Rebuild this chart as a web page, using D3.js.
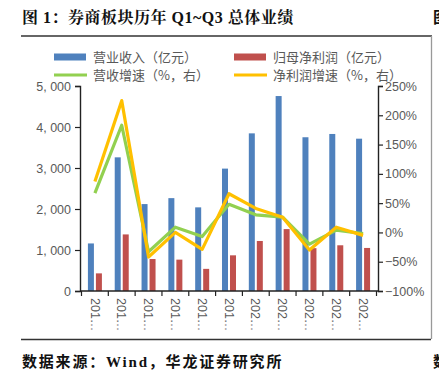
<!DOCTYPE html>
<html><head><meta charset="utf-8">
<script src="https://cdn.jsdelivr.net/npm/d3@7/dist/d3.min.js"></script>
<style>
body{margin:0;background:#fff;}
svg{display:block;}
</style></head>
<body>
<svg id="c" width="439" height="380"></svg>
<script>
const categories = ["2014Q1-Q3","2015Q1-Q3","2016Q1-Q3","2017Q1-Q3","2018Q1-Q3","2019Q1-Q3","2020Q1-Q3","2021Q1-Q3","2022Q1-Q3","2023Q1-Q3","2024Q1-Q3"];
const revenue = [1160, 3260, 2120, 2265, 2040, 2985, 3845, 4755, 3750, 3830, 3715];
const netProfit = [430, 1380, 780, 765, 540, 870, 1220, 1510, 1045, 1115, 1050];
const revenueGrowth = [67, 183, -33, 9, -7, 48, 30, 26, -20, 4, -2];
const profitGrowth = [87, 225, -42, 0, -29, 66, 41, 26, -30, 9, -5];
const leftTicks = [0, 1000, 2000, 3000, 4000, 5000];
const leftTickLabels = ["0", "1, 000", "2, 000", "3, 000", "4, 000", "5, 000"];
const rightTicks = [-100, -50, 0, 50, 100, 150, 200, 250];
const rightTickLabels = ["\u2212100%", "\u221250%", "0%", "50%", "100%", "150%", "200%", "250%"];
const seriesNames = ["营业收入（亿元）", "归母净利润（亿元）", "营收增速（%，右）", "净利润增速（%，右）"];
const title = "图 1：券商板块历年 Q1~Q3 总体业绩";
const source = "数据来源：Wind，华龙证券研究所";

const colors = {blue:"#4F81BD", red:"#C0504D", green:"#92D050", yellow:"#FFC000"};
const svg = d3.select("#c");
const sans = "Arial, 'Liberation Sans', 'Noto Sans CJK SC', sans-serif";
const cjk = "'Noto Sans CJK SC', sans-serif";

// page frame
svg.append("text").attr("x", 22).attr("y", 23).attr("font-family", "'Liberation Serif','Noto Serif CJK SC','Noto Sans CJK SC',serif")
  .attr("font-weight", "bold").attr("font-size", 16).attr("fill", "#111").attr("letter-spacing", 0.5).text(title);
svg.append("text").attr("x", 433).attr("y", 23).attr("font-family", cjk).attr("font-weight","bold").attr("font-size", 16).attr("fill", "#111").text("图");
svg.append("line").attr("x1", 21).attr("x2", 432).attr("y1", 36).attr("y2", 36).attr("stroke", "#333").attr("stroke-width", 1.3);
svg.append("line").attr("x1", 431.5).attr("x2", 431.5).attr("y1", 36).attr("y2", 339).attr("stroke", "#999").attr("stroke-width", 1.3);
svg.append("line").attr("x1", 21).attr("x2", 431).attr("y1", 339.5).attr("y2", 339.5).attr("stroke", "#333").attr("stroke-width", 1.3);
svg.append("text").attr("x", 22).attr("y", 367).attr("font-family", "'Liberation Serif','Noto Sans CJK SC',serif")
  .attr("font-weight", "bold").attr("font-size", 15).attr("fill", "#111").attr("letter-spacing", 1.8).text(source);
svg.append("text").attr("x", 433).attr("y", 367).attr("font-family", cjk).attr("font-weight","bold").attr("font-size", 15).attr("fill", "#111").text("数");

// scales
const x0 = 80, x1 = 378, yTop = 86, yBot = 291;
const x = d3.scaleBand().domain(categories).range([x0 + 1.5, x1 - 1.5]).paddingInner(0).paddingOuter(0);
const yL = d3.scaleLinear().domain([0, 5000]).range([yBot, yTop]);
const yR = d3.scaleLinear().domain([-100, 250]).range([yBot, yTop]);
const bw = 6, gap = 2;

// bars
const g = svg.append("g");
g.selectAll("rect.rev").data(revenue).join("rect")
  .attr("x", (d, i) => x(categories[i]) + x.bandwidth()/2 - bw - gap/2)
  .attr("width", bw).attr("y", d => yL(d)).attr("height", d => yBot - yL(d)).attr("fill", colors.blue);
g.selectAll("rect.np").data(netProfit).join("rect")
  .attr("x", (d, i) => x(categories[i]) + x.bandwidth()/2 + gap/2)
  .attr("width", bw).attr("y", d => yL(d)).attr("height", d => yBot - yL(d)).attr("fill", colors.red);

// axes
const axisL = d3.axisLeft(yL).tickValues(leftTicks).tickFormat((d, i) => leftTickLabels[i]).tickSize(5).tickPadding(4);
const gl = svg.append("g").attr("transform", `translate(${x0},0)`).call(axisL);
const axisR = d3.axisRight(yR).tickValues(rightTicks).tickFormat((d, i) => rightTickLabels[i]).tickSize(5).tickPadding(2);
const gr = svg.append("g").attr("transform", `translate(${x1},0)`).call(axisR);
const axisB = d3.axisBottom(x).tickSize(0).tickFormat(d => d.slice(0, 3) + "…");
const gb = svg.append("g").attr("transform", `translate(0,${yBot})`).call(axisB);
// boundary ticks on x axis
const bounds = categories.map(c => x(c)).concat([x(categories[categories.length-1]) + x.bandwidth()]);
gb.selectAll("line.bt").data(bounds).join("line").attr("class","bt")
  .attr("x1", d => d).attr("x2", d => d).attr("y1", 0).attr("y2", 5).attr("stroke", "#222").attr("stroke-width", 1.2);
gb.select(".domain").attr("d", `M${x0},0H${x1}`);

[gl, gr, gb].forEach(a => {
  a.select(".domain").attr("stroke", "#222").attr("stroke-width", 1.4);
  a.selectAll(".tick line").attr("stroke", "#222").attr("stroke-width", 1.2);
  a.selectAll("text").attr("font-family", sans).attr("font-size", 13).attr("fill", "#595959");
});
gb.selectAll(".tick text").attr("transform", "rotate(90)").attr("text-anchor", "start")
  .attr("x", 7).attr("y", 0).attr("dy", "0.35em").attr("font-size", 12.5);
gl.selectAll(".tick text").attr("font-size", 12.5);
gr.selectAll(".tick text").attr("font-size", 12.5);

// lines
const cx = i => x(categories[i]) + x.bandwidth()/2;
const line = d3.line().x((d, i) => cx(i)).y(d => yR(d));
svg.append("path").datum(revenueGrowth).attr("d", line).attr("fill", "none").attr("stroke", colors.green)
  .attr("stroke-width", 3.2).attr("stroke-linejoin", "round");
svg.append("path").datum(profitGrowth).attr("d", line).attr("fill", "none").attr("stroke", colors.yellow)
  .attr("stroke-width", 3.2).attr("stroke-linejoin", "round");

// legend
const leg = svg.append("g");
const legItems = [
  {name: seriesNames[0], type: "rect", color: colors.blue, x: 54, y: 57},
  {name: seriesNames[1], type: "rect", color: colors.red, x: 234, y: 57},
  {name: seriesNames[2], type: "line", color: colors.green, x: 54, y: 75},
  {name: seriesNames[3], type: "line", color: colors.yellow, x: 234, y: 75}
];
legItems.forEach(it => {
  if (it.type === "rect") {
    leg.append("rect").attr("x", it.x).attr("y", it.y - 3.5).attr("width", 32).attr("height", 7).attr("fill", it.color);
  } else {
    leg.append("line").attr("x1", it.x).attr("x2", it.x + 33).attr("y1", it.y).attr("y2", it.y)
      .attr("stroke", it.color).attr("stroke-width", 3);
  }
  leg.append("text").attr("x", it.x + 39).attr("y", it.y).attr("dy", "0.36em")
    .attr("font-family", cjk).attr("font-size", 13).attr("fill", "#595959").text(it.name);
});
</script>
</body></html>
